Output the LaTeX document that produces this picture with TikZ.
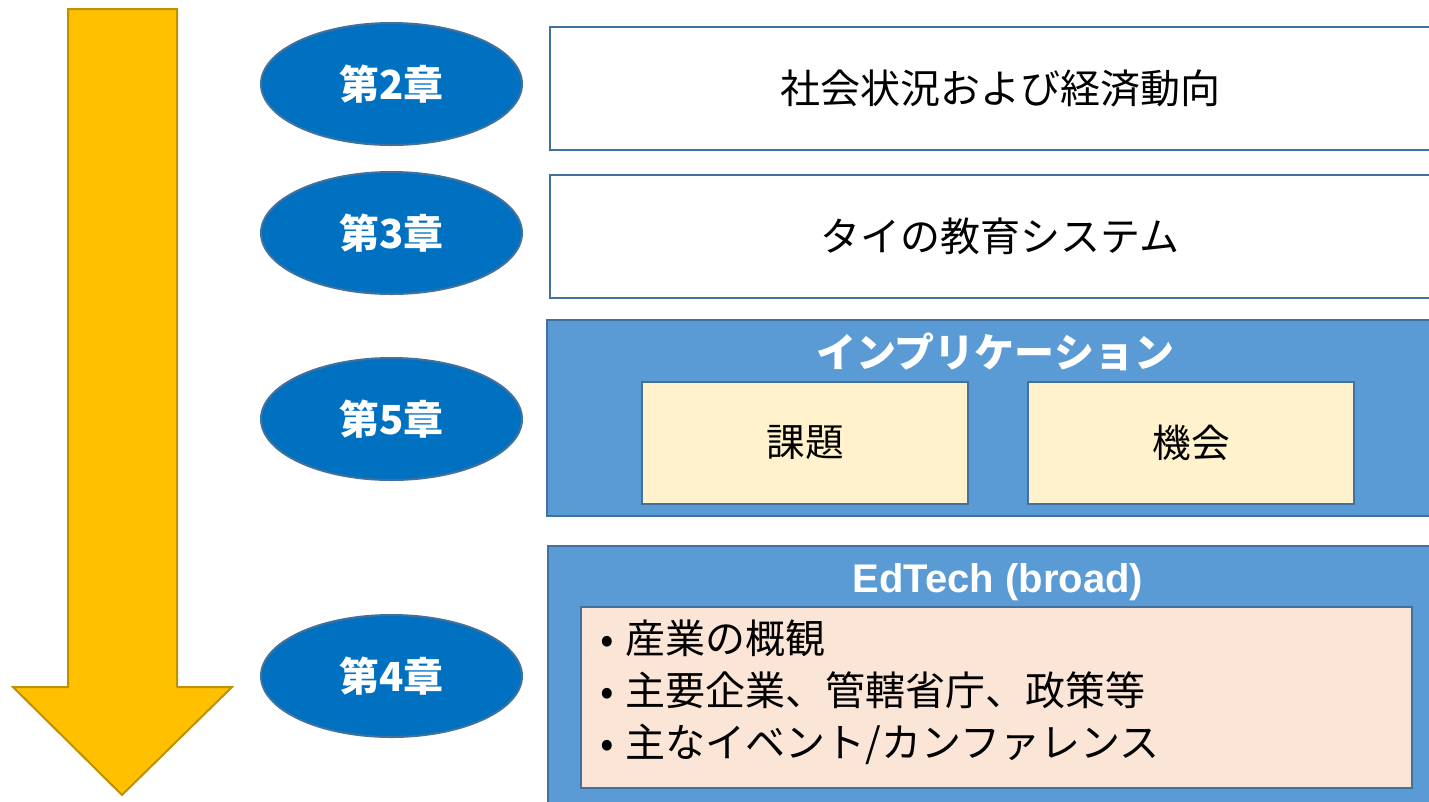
\documentclass[tikz,border=0pt]{standalone}
\usepackage{fontspec}
\setmainfont{Noto Sans CJK JP}
\newfontfamily\latinbold{Liberation Sans}
\usetikzlibrary{shapes.geometric}
\definecolor{arrowfill}{HTML}{FFC000}
\definecolor{arrowline}{HTML}{BF9000}
\definecolor{chapfill}{HTML}{0070C0}
\definecolor{boxline}{HTML}{41719C}
\definecolor{bluefill}{HTML}{5B9BD5}
\definecolor{yellowfill}{HTML}{FFF2CC}
\definecolor{peachfill}{HTML}{FBE5D6}
\tikzset{
  chapter/.style={ellipse, draw=boxline, line width=1.5pt, fill=chapfill, text=white,
    font=\fontsize{30}{36}\selectfont\bfseries, minimum width=261*0.75pt, minimum height=122*0.75pt, inner sep=0pt},
  whitebox/.style={rectangle, draw=boxline, line width=1.5pt, fill=white,
    font=\fontsize{30}{36}\selectfont, minimum width=900*0.75pt, minimum height=123*0.75pt, inner sep=0pt},
  bluebox/.style={rectangle, draw=boxline, line width=1.5pt, fill=bluefill, inner sep=0pt},
  titletext/.style={text=white, font=\fontsize{30}{36}\selectfont\bfseries, inner sep=0pt},
  subbox/.style={rectangle, draw=boxline, line width=1.5pt, fill=yellowfill,
    font=\fontsize{29}{34}\selectfont, minimum width=326*0.75pt, minimum height=122*0.75pt, inner sep=0pt},
}
\begin{document}
\begin{tikzpicture}[x=0.75pt,y=-0.75pt]
\useasboundingbox (0,0) rectangle (1429,801);
\clip (0,0) rectangle (1429,801);
% arrow
\path[fill=arrowfill, draw=arrowline, line width=1.5pt, line join=miter]
  (68,9) -- (177,9) -- (177,687) -- (232,687) -- (122,795) -- (13,687) -- (68,687) -- cycle;
% chapters
\node[chapter] (c2) at (391.5,84) {第2章};
\node[chapter] (c3) at (391.5,233) {第3章};
\node[chapter] (c5) at (391.5,419) {第5章};
\node[chapter] (c4) at (391.5,676) {第4章};
% white boxes
\node[whitebox] (b2) at (1000,88.5) {社会状況および経済動向};
\node[whitebox] (b3) at (1000,236.5) {タイの教育システム};
% implication box
\node[bluebox, minimum width=900*0.75pt, minimum height=196*0.75pt] (b5) at (997,418) {};
\node[titletext] (t5) at (995,352) {インプリケーション};
\node[subbox] (k1) at (805,443) {課題};
\node[subbox] (k2) at (1191,443) {機会};
% edtech box
\node[bluebox, minimum width=900*0.75pt, minimum height=270*0.75pt] (b4) at (998,681) {};
\node[titletext, font=\fontsize{30}{36}\selectfont\latinbold\bfseries] (t4) at (998,582) {EdTech (broad)};
\node[rectangle, draw=boxline, line width=1.5pt, fill=peachfill, minimum width=831*0.75pt,
  minimum height=181*0.75pt, inner sep=0pt] (e1) at (996.5,697.5) {};
\node[anchor=west, align=left, inner sep=0pt, font=\fontsize{30}{39}\selectfont] (list) at (600,692)
  {•\hspace{9pt}産業の概観\\•\hspace{9pt}主要企業、管轄省庁、政策等\\•\hspace{9pt}主なイベント/カンファレンス};
\end{tikzpicture}
\end{document}
